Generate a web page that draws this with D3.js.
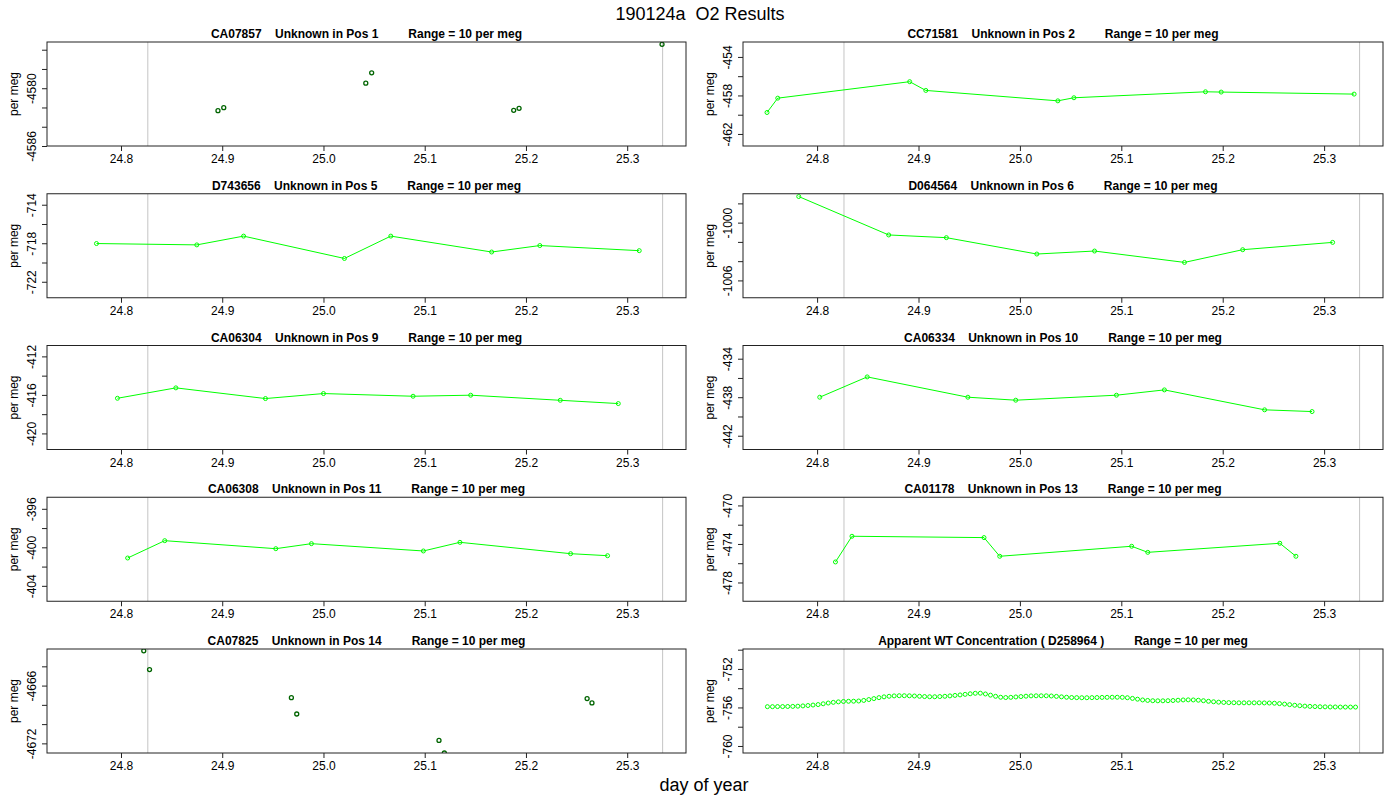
<!DOCTYPE html>
<html>
<head>
<meta charset="utf-8">
<script src="https://cdn.jsdelivr.net/npm/d3@7"></script>
<style>
  html, body { margin: 0; padding: 0; background: #fff; }
  svg { display: block; font-family: "Liberation Sans", Arial, Helvetica, sans-serif; }
</style>
</head>
<body>
<svg id="chart" width="1400" height="800"></svg>
<script>
// ---------------- DATA ----------------
const mainTitle = "190124a  O2 Results";
const xAxisTitle = "day of year";
const yAxisTitle = "per meg";
const xTickValues = [24.8, 24.9, 25.0, 25.1, 25.2, 25.3];
const xLimits = [24.7503, 25.3347];
const greyLineDays = [24.8265, 25.335];
const rangeText = "Range = 10 per meg";

const titles = [
  "CA07857    Unknown in Pos 1",
  "CC71581    Unknown in Pos 2",
  "D743656    Unknown in Pos 5",
  "D064564    Unknown in Pos 6",
  "CA06304    Unknown in Pos 9",
  "CA06334    Unknown in Pos 10",
  "CA06308    Unknown in Pos 11",
  "CA01178    Unknown in Pos 13",
  "CA07825    Unknown in Pos 14",
  "Apparent WT Concentration ( D258964 )"
];

const pos1Days = [24.8958, 24.9015, 25.0418, 25.0476, 25.1879, 25.1932, 25.3344];
const pos1Vals = [-4582.33, -4582.02, -4579.48, -4578.40, -4582.30, -4582.09, -4575.44];

const pos2Days = [24.7506, 24.7612, 24.8913, 24.9072, 25.0374, 25.0533, 25.1830, 25.1985, 25.3296];
const pos2Vals = [-459.77, -458.28, -456.57, -457.48, -458.56, -458.24, -457.62, -457.65, -457.86];

const pos5Days = [24.7758, 24.8749, 24.9211, 25.0207, 25.0665, 25.1661, 25.2137, 25.3119];
const pos5Vals = [-718.03, -718.17, -717.26, -719.58, -717.26, -718.91, -718.24, -718.77];

const pos6Days = [24.7819, 24.8706, 24.9275, 25.0167, 25.0736, 25.1623, 25.2197, 25.3084];
const pos6Vals = [-997.29, -1001.28, -1001.56, -1003.26, -1002.95, -1004.13, -1002.81, -1002.05];

const pos9Days = [24.7965, 24.8542, 24.9427, 25.0000, 25.0885, 25.1454, 25.2339, 25.2912];
const pos9Vals = [-416.35, -415.27, -416.38, -415.86, -416.14, -416.03, -416.56, -416.90];

const pos10Days = [24.8026, 24.8494, 24.9487, 24.9959, 25.0952, 25.1425, 25.2413, 25.2881];
const pos10Vals = [-438.00, -435.89, -438.00, -438.31, -437.79, -437.24, -439.31, -439.49];

const pos11Days = [24.8066, 24.8432, 24.9529, 24.9881, 25.0987, 25.1348, 25.2441, 25.2806];
const pos11Vals = [-401.11, -399.31, -400.14, -399.62, -400.38, -399.48, -400.66, -400.87];

const pos13Days = [24.8181, 24.8344, 24.9646, 24.9801, 25.1102, 25.1261, 25.2563, 25.2722];
const pos13Vals = [-475.87, -473.20, -473.34, -475.28, -474.24, -474.87, -473.93, -475.28];

const pos14Days = [24.8225, 24.8282, 24.9683, 24.9736, 25.1141, 25.1194, 25.2604, 25.2652];
const pos14Vals = [-4662.39, -4664.34, -4667.25, -4668.95, -4671.69, -4673.00, -4667.35, -4667.80];

const wtDays = [
  24.751,24.756,24.761,24.766,24.771,24.776,24.781,24.786,24.791,24.796,
  24.801,24.806,24.811,24.816,24.821,24.826,24.831,24.836,24.841,24.846,
  24.851,24.856,24.861,24.866,24.871,24.876,24.881,24.886,24.891,24.896,
  24.901,24.906,24.911,24.916,24.921,24.926,24.931,24.936,24.941,24.946,
  24.951,24.956,24.961,24.966,24.971,24.976,24.981,24.986,24.991,24.996,
  25.001,25.006,25.011,25.016,25.021,25.026,25.031,25.036,25.041,25.046,
  25.051,25.056,25.061,25.066,25.071,25.076,25.081,25.086,25.091,25.096,
  25.101,25.106,25.111,25.116,25.121,25.126,25.131,25.136,25.141,25.146,
  25.151,25.156,25.161,25.166,25.171,25.176,25.181,25.186,25.191,25.196,
  25.201,25.206,25.211,25.216,25.221,25.226,25.231,25.236,25.241,25.246,
  25.251,25.256,25.261,25.266,25.271,25.276,25.281,25.286,25.291,25.296,
  25.301,25.306,25.311,25.316,25.321,25.326,25.331
];
const wtVals = [
  -755.92,-755.92,-755.91,-755.91,-755.90,-755.89,-755.87,-755.84,-755.80,-755.75,
  -755.70,-755.62,-755.54,-755.47,-755.42,-755.38,-755.36,-755.35,-755.33,-755.27,
  -755.18,-755.08,-754.98,-754.90,-754.84,-754.80,-754.78,-754.78,-754.79,-754.81,
  -754.84,-754.87,-754.89,-754.89,-754.87,-754.84,-754.80,-754.75,-754.70,-754.64,
  -754.58,-754.53,-754.52,-754.60,-754.72,-754.84,-754.94,-754.97,-754.95,-754.91,
  -754.87,-754.83,-754.80,-754.79,-754.79,-754.79,-754.81,-754.85,-754.90,-754.94,
  -754.97,-754.98,-754.99,-754.99,-754.98,-754.97,-754.96,-754.95,-754.94,-754.94,
  -754.95,-754.99,-755.06,-755.14,-755.22,-755.27,-755.30,-755.31,-755.31,-755.30,
  -755.28,-755.25,-755.22,-755.21,-755.22,-755.25,-755.30,-755.36,-755.41,-755.45,
  -755.48,-755.50,-755.51,-755.52,-755.52,-755.52,-755.52,-755.52,-755.53,-755.54,
  -755.56,-755.60,-755.65,-755.71,-755.77,-755.82,-755.86,-755.89,-755.91,-755.93,
  -755.94,-755.95,-755.95,-755.96,-755.96,-755.96,-755.96
];

// lower end of each panel's 10 per meg window
const yLows = [-4585.6, -462.85, -723.26, -1007.4, -421.27, -443.03, -405.2, -479.55, -4672.6, -760.33];
// labelled y ticks per panel
const yTickLabels = [
  [-4580, -4586],
  [-454, -458, -462],
  [-714, -718, -722],
  [-1000, -1006],
  [-412, -416, -420],
  [-434, -438, -442],
  [-396, -400, -404],
  [-470, -474, -478],
  [-4666, -4672],
  [-752, -756, -760]
];
const panelDays = [pos1Days, pos2Days, pos5Days, pos6Days, pos9Days, pos10Days, pos11Days, pos13Days, pos14Days, wtDays];
const panelVals = [pos1Vals, pos2Vals, pos5Vals, pos6Vals, pos9Vals, pos10Vals, pos11Vals, pos13Vals, pos14Vals, wtVals];
const panelStyle = ["dark", "line", "line", "line", "line", "line", "line", "line", "dark", "points"];

// ---------------- LAYOUT ----------------
const svg = d3.select("#chart");
const colX = [[47, 686], [743, 1383]];
const rowTop0 = 42, rowStep = 151.75, boxH = 104;
const FONT = '"Liberation Sans", Arial, Helvetica, sans-serif';

svg.append("rect").attr("width", 1400).attr("height", 800).attr("fill", "#fff");

svg.append("text").attr("x", 700).attr("y", 19.5).attr("text-anchor", "middle")
  .attr("font-size", 18).attr("fill", "#000").style("white-space", "pre").text(mainTitle);
svg.append("text").attr("x", 704).attr("y", 791).attr("text-anchor", "middle")
  .attr("font-size", 18).attr("fill", "#000").text(xAxisTitle);

const defs = svg.append("defs");

titles.forEach((title, i) => {
  const col = i % 2, row = Math.floor(i / 2);
  const [x0, x1] = colX[col];
  const top = rowTop0 + row * rowStep, bottom = top + boxH;

  const span = xLimits[1] - xLimits[0];
  const x = d3.scaleLinear()
    .domain([xLimits[0] - 0.04 * span, xLimits[1] + 0.04 * span])
    .range([x0, x1]);
  const lo = yLows[i];
  const y = d3.scaleLinear().domain([lo - 0.4, lo + 10.4]).range([bottom, top]);

  const g = svg.append("g");

  // clip
  const cid = "clip" + i;
  defs.append("clipPath").attr("id", cid).append("rect")
    .attr("x", x0).attr("y", top).attr("width", x1 - x0).attr("height", boxH);

  // grey vertical lines
  g.append("g").attr("clip-path", `url(#${cid})`).selectAll("line").data(greyLineDays).join("line")
    .attr("x1", d => x(d)).attr("x2", d => x(d))
    .attr("y1", top).attr("y2", bottom)
    .attr("stroke", "#c4c4c4").attr("stroke-width", 1);

  // data
  const pts = panelDays[i].map((d, k) => ({ d, v: panelVals[i][k] }));
  const dg = g.append("g").attr("clip-path", `url(#${cid})`);
  const style = panelStyle[i];
  if (style === "line") {
    dg.append("path").datum(pts)
      .attr("d", d3.line().x(p => x(p.d)).y(p => y(p.v)))
      .attr("fill", "none").attr("stroke", "#00ff00").attr("stroke-width", 1);
  }
  dg.selectAll("circle").data(pts).join("circle")
    .attr("cx", p => x(p.d)).attr("cy", p => y(p.v)).attr("r", 2)
    .attr("fill", "none")
    .attr("stroke", style === "dark" ? "#006400" : "#00ff00")
    .attr("stroke-width", style === "dark" ? 1.3 : 1);

  // x axis
  const xa = g.append("g").attr("transform", `translate(0,${bottom})`)
    .call(d3.axisBottom(x).tickValues(xTickValues).tickFormat(d3.format(".1f")).tickSize(5).tickPadding(3.5));
  xa.select(".domain").remove();
  xa.selectAll("line").attr("stroke", "#222");
  xa.selectAll("text").attr("font-size", 12).attr("font-family", FONT).attr("fill", "#000");

  // y axis
  const yTicks = d3.range(Math.ceil((lo - 0.4) / 2) * 2, lo + 10.4 + 1e-9, 2);
  const labels = yTickLabels[i];
  const ya = g.append("g").attr("transform", `translate(${x0},0)`)
    .call(d3.axisLeft(y).tickValues(yTicks).tickSize(5)
      .tickFormat(v => labels.includes(v) ? String(v).replace("-", "-") : ""));
  ya.select(".domain").remove();
  ya.selectAll("line").attr("stroke", "#222");
  ya.selectAll("text")
    .attr("font-size", 12).attr("font-family", FONT).attr("fill", "#000")
    .attr("x", null).attr("dy", null)
    .attr("text-anchor", "middle")
    .attr("transform", "translate(-11,0) rotate(-90)");

  // y axis title
  g.append("text").attr("transform", `translate(${x0 - 29},${(top + bottom) / 2}) rotate(-90)`)
    .attr("text-anchor", "middle").attr("font-size", 12).attr("fill", "#000").text(yAxisTitle);

  // box
  g.append("rect").attr("x", x0).attr("y", top).attr("width", x1 - x0).attr("height", boxH)
    .attr("fill", "none").attr("stroke", "#222").attr("stroke-width", 1);

  // panel title
  g.append("text").attr("x", (x0 + x1) / 2).attr("y", top - 4)
    .attr("text-anchor", "middle").attr("font-size", 12).attr("font-weight", "bold")
    .attr("fill", "#000").style("white-space", "pre")
    .text(title + "         " + rangeText);
});
</script>
</body>
</html>
